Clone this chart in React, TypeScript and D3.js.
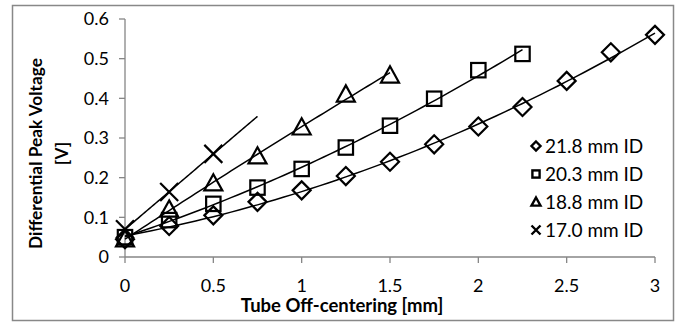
import React from "react";
import * as d3 from "d3";

// Tube off-centering positions [mm]
const xD = [0, 0.25, 0.5, 0.75, 1, 1.25, 1.5, 1.75, 2, 2.25, 2.5, 2.75, 3];
const yD = [0.045, 0.078, 0.105, 0.139, 0.168, 0.204, 0.24, 0.284, 0.329, 0.378, 0.444, 0.516, 0.56];

const xS = [0, 0.25, 0.5, 0.75, 1, 1.25, 1.5, 1.75, 2, 2.25];
const yS = [0.05, 0.093, 0.134, 0.175, 0.222, 0.276, 0.331, 0.399, 0.471, 0.512];

const xT = [0, 0.25, 0.5, 0.75, 1, 1.25, 1.5];
const yT = [0.045, 0.12, 0.186, 0.254, 0.327, 0.41, 0.458];

const xX = [0, 0.25, 0.5];
const yX = [0.07, 0.164, 0.26];

const seriesNames = ["21.8 mm ID", "20.3 mm ID", "18.8 mm ID", "17.0 mm ID"];
const xTicks = [0, 0.5, 1, 1.5, 2, 2.5, 3];
const yTicks = [0, 0.1, 0.2, 0.3, 0.4, 0.5, 0.6];

type Kind = "diamond" | "square" | "triangle" | "cross";

const W = 683;
const H = 324;
const FONT = "Lato, 'Open Sans', sans-serif";

const x = d3.scaleLinear().domain([0, 3]).range([125, 655]);
const y = d3.scaleLinear().domain([0, 0.6]).range([257, 19]);

// least-squares polynomial fit, returns coefficients c0..cn
function polyfit(xs: number[], ys: number[], deg: number): number[] {
  const n = deg + 1;
  const A: number[][] = Array.from({ length: n }, () => new Array(n + 1).fill(0));
  for (let r = 0; r < n; r++) {
    for (let c = 0; c < n; c++) A[r][c] = d3.sum(xs, (v) => Math.pow(v, r + c));
    A[r][n] = d3.sum(xs, (v, i) => ys[i] * Math.pow(v, r));
  }
  for (let i = 0; i < n; i++) {
    let p = i;
    for (let k = i + 1; k < n; k++) if (Math.abs(A[k][i]) > Math.abs(A[p][i])) p = k;
    [A[i], A[p]] = [A[p], A[i]];
    for (let k = 0; k < n; k++) {
      if (k === i) continue;
      const f = A[k][i] / A[i][i];
      for (let c = i; c <= n; c++) A[k][c] -= f * A[i][c];
    }
  }
  return A.map((row, i) => row[n] / row[i]);
}

function trend(xs: number[], ys: number[], deg: number, x1: number): string {
  const c = polyfit(xs, ys, deg);
  const pts: [number, number][] = d3.range(0, 61).map((i) => {
    const t = (x1 * i) / 60;
    const v = c.reduce((s, ci, k) => s + ci * Math.pow(t, k), 0);
    return [t, v];
  });
  return d3.line<[number, number]>().x((d) => x(d[0])).y((d) => y(d[1]))(pts) || "";
}

function Marker({ kind, cx, cy, s, sw }: { kind: Kind; cx: number; cy: number; s: number; sw: number }) {
  const common = { fill: "none", stroke: "#000", strokeWidth: sw };
  if (kind === "diamond")
    return <path d={`M${cx},${cy - s}L${cx + s},${cy}L${cx},${cy + s}L${cx - s},${cy}Z`} {...common} />;
  if (kind === "square")
    return <rect x={cx - s * 0.8} y={cy - s * 0.8} width={s * 1.6} height={s * 1.6} {...common} />;
  if (kind === "triangle")
    return <path d={`M${cx},${cy - s}L${cx + s},${cy + s * 0.8}L${cx - s},${cy + s * 0.8}Z`} {...common} />;
  return (
    <path d={`M${cx - s},${cy - s}L${cx + s},${cy + s}M${cx - s},${cy + s}L${cx + s},${cy - s}`} {...common} />
  );
}

const series: { xs: number[]; ys: number[]; kind: Kind; deg: number; end: number }[] = [
  { xs: xD, ys: yD, kind: "diamond", deg: 2, end: 3 },
  { xs: xS, ys: yS, kind: "square", deg: 2, end: 2.25 },
  { xs: xT, ys: yT, kind: "triangle", deg: 2, end: 1.5 },
  { xs: xX, ys: yX, kind: "cross", deg: 1, end: 0.75 },
];

export default function App() {
  const axisColor = "#868686";
  return (
    <svg width={W} height={H} style={{ position: "absolute", left: 0, top: 0 }}>
      <rect x={0} y={0} width={W} height={H} fill="#fff" />
      <rect x={12.5} y={5.5} width={661} height={315} fill="none" stroke="#888" strokeWidth={1.5} />

      {/* axes */}
      <line x1={x(0)} x2={x(0)} y1={y(0)} y2={y(0.6)} stroke={axisColor} strokeWidth={1.3} />
      <line x1={x(0)} x2={x(3)} y1={y(0)} y2={y(0)} stroke={axisColor} strokeWidth={1.3} />
      {yTicks.map((t) => (
        <g key={"y" + t}>
          <line x1={x(0) - 6} x2={x(0)} y1={y(t)} y2={y(t)} stroke={axisColor} strokeWidth={1.3} />
          <text x={109} y={y(t)} dy="0.35em" textAnchor="end" fontFamily={FONT} fontSize={18}>
            {t}
          </text>
        </g>
      ))}
      {xTicks.map((t) => (
        <g key={"x" + t}>
          <line x1={x(t)} x2={x(t)} y1={y(0)} y2={y(0) + 6} stroke={axisColor} strokeWidth={1.3} />
          <text x={x(t)} y={286} textAnchor="middle" dy="0.35em" fontFamily={FONT} fontSize={18}>
            {t}
          </text>
        </g>
      ))}

      <text x={342} y={306} dy="0.35em" textAnchor="middle" fontFamily={FONT} fontSize={18.5} fontWeight="bold">
        Tube Off-centering [mm]
      </text>
      <g transform="translate(36,153.5) rotate(-90)">
        <text x={0} y={0} dy="0.35em" textAnchor="middle" fontFamily={FONT} fontSize={17.3} fontWeight="bold">
          Differential Peak Voltage
        </text>
      </g>
      <g transform="translate(62,153.5) rotate(-90)">
        <text x={0} y={0} dy="0.35em" textAnchor="middle" fontFamily={FONT} fontSize={17.3} fontWeight="bold">
          [V]
        </text>
      </g>

      {/* trendlines */}
      {series.map((s, i) => (
        <path key={"t" + i} d={trend(s.xs, s.ys, s.deg, s.end)} fill="none" stroke="#000" strokeWidth={1.5} />
      ))}

      {/* markers */}
      {series.map((s, i) => (
        <g key={"m" + i}>
          {s.xs.map((v, j) => (
            <Marker key={j} kind={s.kind} cx={x(v)} cy={y(s.ys[j])} s={9} sw={2.2} />
          ))}
        </g>
      ))}

      {/* legend */}
      {series.map((s, i) => (
        <g key={"l" + i}>
          <Marker kind={s.kind} cx={536} cy={146 + i * 28} s={4.5} sw={2.4} />
          <text x={545} y={146 + i * 28} dy="0.35em" fontFamily={FONT} fontSize={19}>
            {seriesNames[i]}
          </text>
        </g>
      ))}
    </svg>
  );
}
